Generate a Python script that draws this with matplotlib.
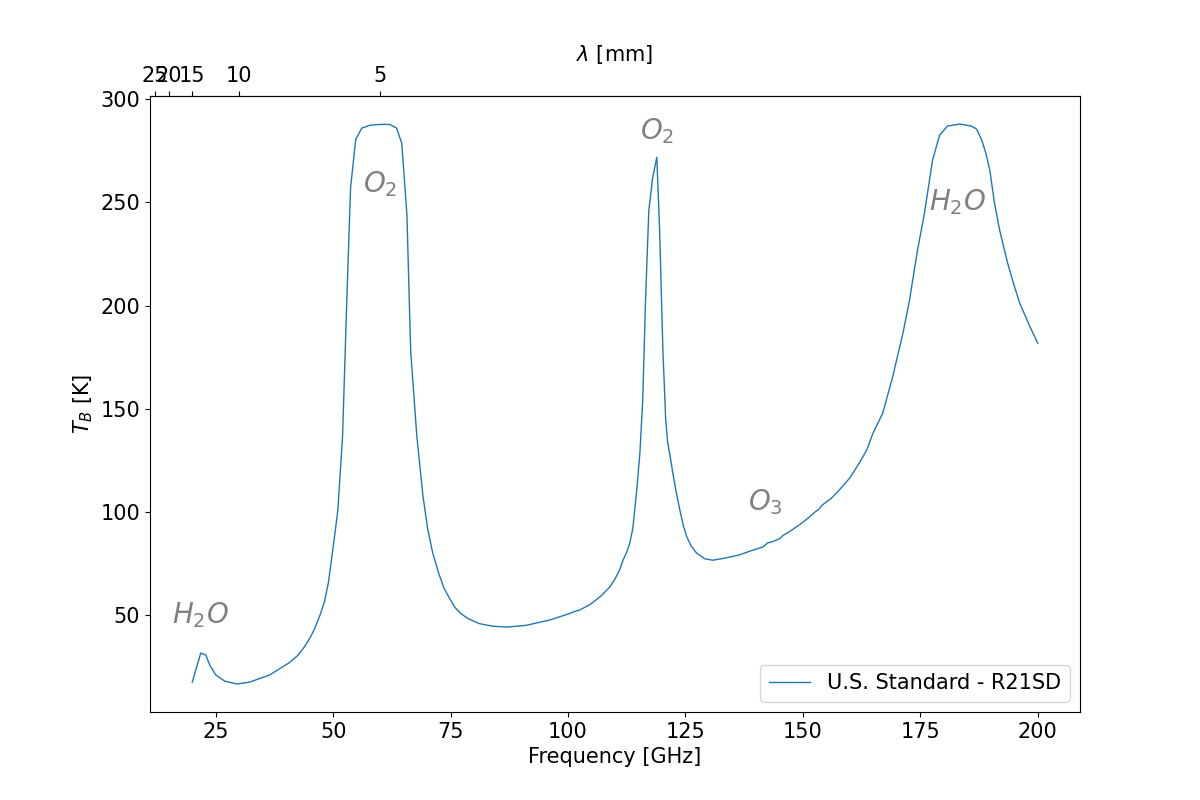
import numpy as np
from matplotlib import pyplot as plt

# Brightness temperature spectrum
freq = [20.0, 21.8, 22.9, 23.7, 25.0, 26.9, 29.5, 32.2, 36.5, 40.7, 42.5, 44.0,
        45.2, 46.1, 47.2, 48.2, 49.0, 49.7, 50.4, 51.0, 52.0, 52.9, 53.7, 54.8,
        56.1, 57.8, 60.0, 62.0, 63.5, 64.6, 65.7, 66.5, 67.8, 69.1, 70.1, 71.2,
        72.5, 73.6, 74.8, 76.0, 77.3, 78.8, 81.2, 84.0, 87.0, 91.0, 96.1, 100.0,
        101.5, 102.5, 104.6, 106.8, 108.9, 110.0, 111.0, 111.7, 112.5, 113.1,
        113.8, 114.6, 115.3, 115.9, 116.5, 117.2, 118.0, 118.9, 119.5, 120.2,
        120.8, 121.2, 121.8, 122.3, 123.0, 123.8, 124.6, 125.3, 126.2, 127.4,
        129.1, 130.8, 133.4, 136.5, 139.0, 141.5, 142.5, 143.5, 145.0, 145.8,
        147.5, 149.3, 151.0, 152.5, 153.5, 154.1, 156.0, 157.9, 160.0, 162.1,
        163.6, 164.9, 167.0, 169.1, 171.3, 172.7, 174.4, 175.9, 177.6, 179.1,
        180.8, 183.4, 185.9, 187.0, 188.1, 189.0, 189.8, 190.8, 191.9, 193.6,
        195.0, 196.2, 198.3, 200.0]
tb = [17.5, 31.6, 30.6, 25.8, 21.0, 18.0, 16.6, 17.5, 21.0, 27.0, 30.5, 35.0,
      39.5, 43.7, 50.0, 57.0, 66.0, 78.0, 90.0, 101.0, 137.0, 202.6, 257.0, 280.6,
      286.0, 287.4, 287.8, 287.8, 286.0, 278.7, 243.8, 178.0, 137.0, 108.0, 92.0, 80.0,
      70.0, 63.0, 58.0, 53.5, 50.5, 48.2, 45.8, 44.6, 44.2, 45.0, 47.6, 50.5,
      51.8, 52.5, 55.0, 58.8, 63.6, 67.5, 72.0, 76.6, 80.5, 84.5,
      92.0, 110.0, 128.5, 154.0, 202.6, 246.0, 261.7, 271.9, 236.5, 178.0,
      144.5, 134.0, 126.0, 119.0, 110.0, 100.9, 93.0, 87.8, 83.5, 80.0,
      77.3, 76.6, 77.6, 79.2, 81.2, 83.0, 85.0, 85.5, 87.0, 88.6,
      91.0, 93.8, 96.8, 99.8, 101.5, 103.3, 106.5, 111.0, 116.5, 124.0,
      130.0, 138.0, 147.9, 165.3, 186.6, 202.6, 226.8, 245.0, 270.4, 282.6,
      287.0, 288.0, 287.0, 285.5, 280.0, 273.5, 265.6, 249.6, 236.5, 220.5,
      209.5, 201.0, 190.0, 181.8]

labels = ['$H_2O$', '$O_2$', '$O_2$', '$O_3$', '$H_2O$']
label_f = [21.8, 60.0, 119.0, 142.0, 183.0]
label_t = [50.0, 259.0, 284.5, 104.7, 250.0]

lam_ticks = [25, 20, 15, 10, 5]

plt.rcParams['font.size'] = 15

fig, ax = plt.subplots(figsize=(12, 8), dpi=100)
ax.plot(freq, tb, lw=1, label='U.S. Standard - R21SD')

for s, f, t in zip(labels, label_f, label_t):
    ax.text(f, t, s, color='gray', fontsize=20, ha='center', va='center')

ax.set_xlabel('Frequency [GHz]')
ax.set_ylabel('$T_B$ [K]')
ax.legend(loc='lower right')


def f2lam(f):
    f = np.asarray(f, dtype=float)
    with np.errstate(divide='ignore'):
        return 300.0 / f


sec = ax.secondary_xaxis('top', functions=(f2lam, f2lam))
sec.set_xticks(lam_ticks)
sec.set_xticklabels([str(v) for v in lam_ticks])
sec.set_xlabel('$\\lambda$ [mm]')

fig.savefig('out.png')
